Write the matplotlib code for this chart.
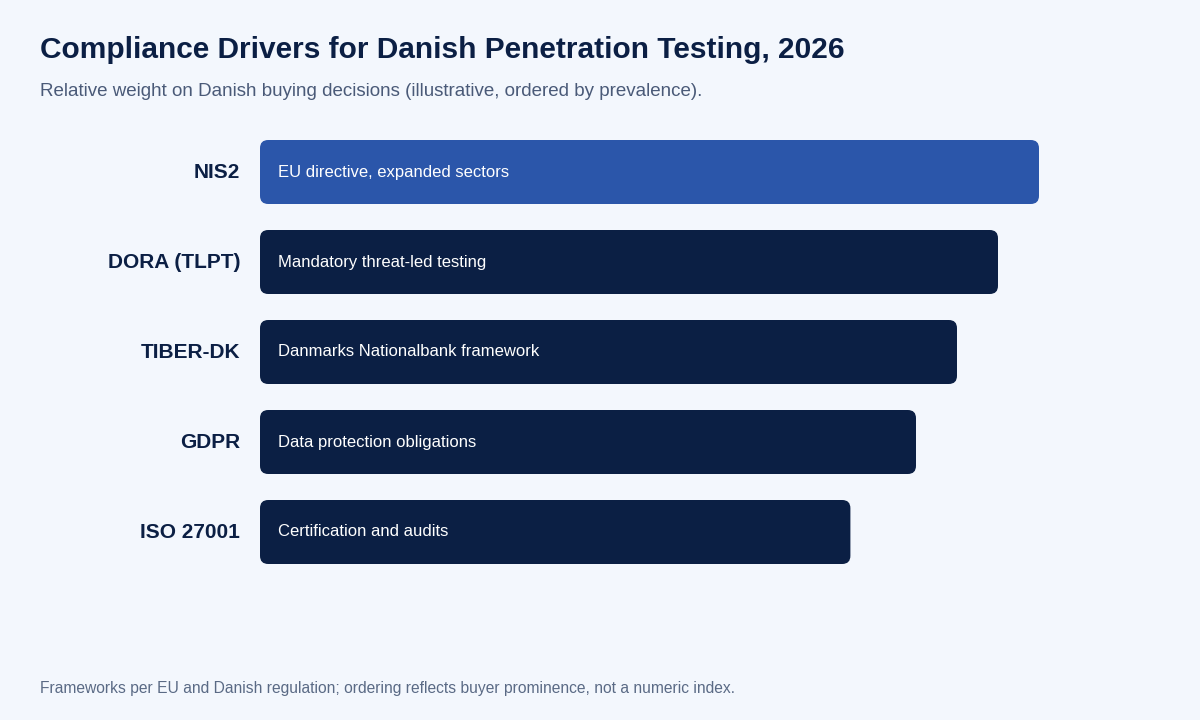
import matplotlib.pyplot as plt
from matplotlib.patches import FancyBboxPatch

frameworks = ['NIS2', 'DORA (TLPT)', 'TIBER-DK', 'GDPR', 'ISO 27001']
notes = ['EU directive, expanded sectors', 'Mandatory threat-led testing',
         'Danmarks Nationalbank framework', 'Data protection obligations',
         'Certification and audits']
weights = [95, 90, 85, 80, 72]

bg = '#F3F7FD'
navy = '#0B1F44'
blue = '#2B56AA'

plt.rcParams['font.family'] = ['Liberation Sans', 'DejaVu Sans']

fig = plt.figure(figsize=(12, 7.2), dpi=100, facecolor=bg)
ax = fig.add_axes([260 / 1200, 1 - 577 / 720, 820 / 1200, 450 / 720])
ax.set_facecolor(bg)
ax.set_xlim(0, 100)
ax.set_ylim(4.5, -0.5)
ax.axis('off')

h = 64 / 90
r = 1.0
for i, (name, note, w) in enumerate(zip(frameworks, notes, weights)):
    col = blue if i == 0 else navy
    box = FancyBboxPatch((0, i - h / 2), w, h,
                         boxstyle=f'round,pad=0,rounding_size={r}',
                         mutation_aspect=0.091, fc=col, ec='none')
    ax.add_patch(box)
    ax.text(2.2, i, note, color='white', fontsize=12, va='center', ha='left')
    ax.text(-2.4, i, name, color=navy, fontsize=15, fontweight='bold',
            va='center', ha='right')

fig.text(40 / 1200, 1 - 50 / 720, 'Compliance Drivers for Danish Penetration Testing, 2026',
         fontsize=21.5, fontweight='bold', color=navy, va='center', ha='left')
fig.text(40 / 1200, 1 - 92 / 720,
         'Relative weight on Danish buying decisions (illustrative, ordered by prevalence).',
         fontsize=13.5, color='#4A5A78', va='center', ha='left')
fig.text(40 / 1200, 1 - 688 / 720,
         'Frameworks per EU and Danish regulation; ordering reflects buyer prominence, not a numeric index.',
         fontsize=11.25, color='#5A6A85', va='center', ha='left')

fig.savefig('out.png', dpi=100, facecolor=bg)
